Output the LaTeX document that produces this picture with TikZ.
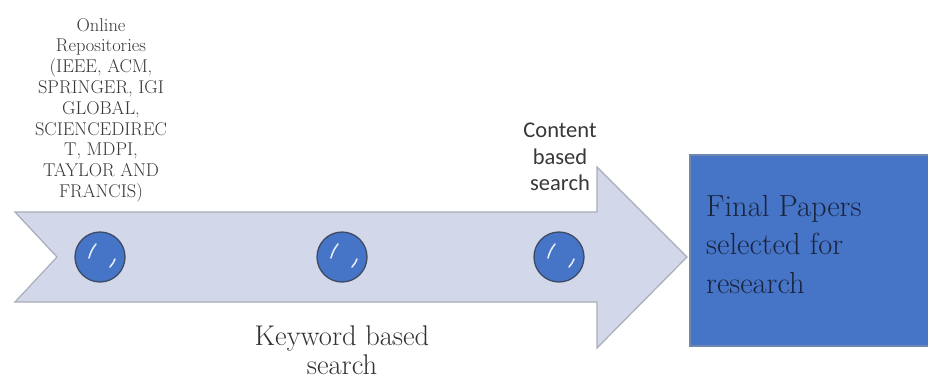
\documentclass[tikz,border=0pt]{standalone}
\usepackage{fontspec}
\newfontfamily\calib{Carlito}
\begin{document}
\begin{tikzpicture}[x=1pt,y=-1pt,
  arrowbody/.style={fill=arrowfill,draw=arrowline,line width=1.2pt,line join=miter},
  stagedot/.style={circle,minimum size=50pt,inner sep=0pt,fill=dotblue,draw=dotline,line width=1.3pt},
  gloss/.style={white,opacity=0.85,line width=1.6pt,line cap=round},
  sidetext/.style={align=center,inner sep=0pt,text=textgray},
  resultbox/.style={fill=boxblue,draw=boxline,line width=1.2pt}
]
\definecolor{arrowfill}{HTML}{D2D7EA}
\definecolor{arrowline}{HTML}{A9ADB8}
\definecolor{dotblue}{HTML}{4674C6}
\definecolor{dotline}{HTML}{3E4A63}
\definecolor{boxblue}{HTML}{4674C6}
\definecolor{boxline}{HTML}{6F86AE}
\definecolor{textgray}{HTML}{383838}
\definecolor{navytext}{HTML}{1A2540}

\useasboundingbox (0,0) rectangle (928,383);
\fill[white] (0,0) rectangle (928,383);

% notched process arrow
\draw[arrowbody] (15,212) -- (597,212) -- (597,167) -- (687,257) -- (597,348)
  -- (597,302) -- (15,302) -- (57,257) -- cycle;

% result box
\draw[resultbox] (690,155) rectangle (935,346);

% stage markers with glossy streaks
\foreach \n/\x in {d1/100,d2/342,d3/559}{
  \node[stagedot] (\n) at (\x,257) {};
  \draw[gloss] ([shift={(-11,1)}]\n.center) to[bend left=12] ([shift={(-4,-13)}]\n.center);
  \draw[gloss] ([shift={(15,2)}]\n.center) to[bend left=10] ([shift={(10,10)}]\n.center);
}

% labels
\node[sidetext,anchor=north,font=\rmfamily\fontsize{18.5}{20.8}\selectfont] (repo) at (101,18)
  {Online\\Repositories\\(IEEE, ACM,\\SPRINGER, IGI\\GLOBAL,\\SCIENCEDIREC\\T, MDPI,\\TAYLOR AND\\FRANCIS)};
\node[sidetext,anchor=north,font=\rmfamily\fontsize{28.5}{28.5}\selectfont,text=textgray!90!black] (kw) at (342,326)
  {Keyword based\\search};
\node[sidetext,anchor=north,font=\calib\fontsize{22.5}{26.5}\selectfont] (cb) at (560,123)
  {Content\\based\\search};
\node[anchor=north west,align=left,inner sep=0pt,text=navytext,font=\rmfamily\fontsize{30.5}{38.5}\selectfont] (fp) at (706,195)
  {Final Papers\\selected for\\research};
\end{tikzpicture}
\end{document}
